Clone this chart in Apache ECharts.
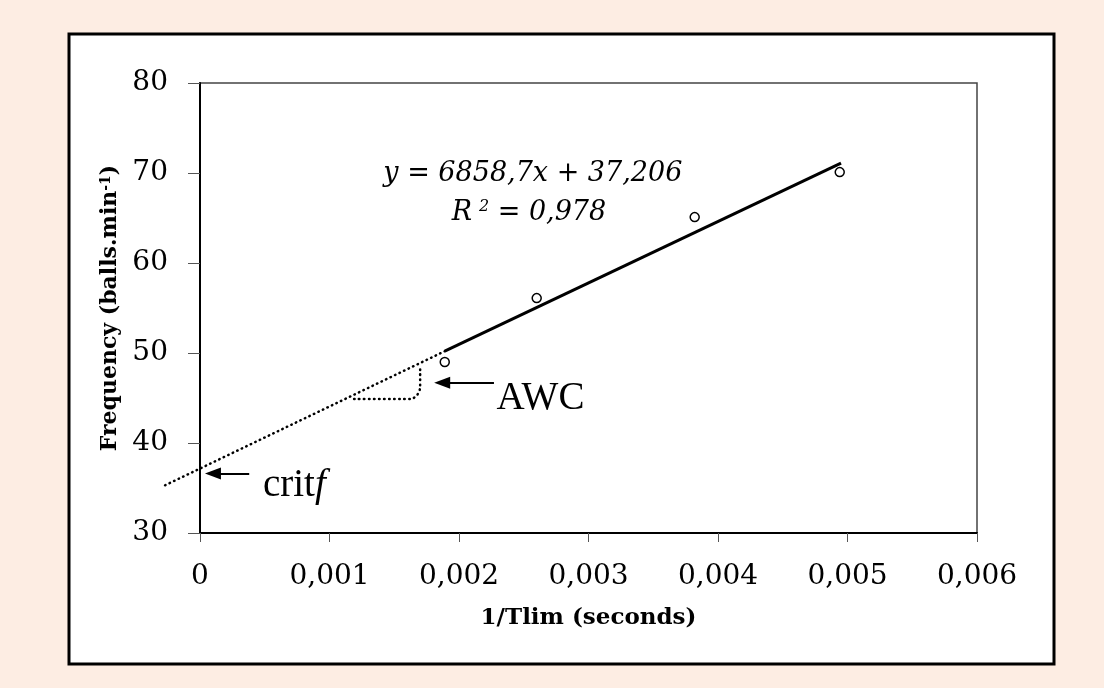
<!DOCTYPE html>
<html>
<head>
<meta charset="utf-8">
<script src="https://cdn.jsdelivr.net/npm/echarts@6/dist/echarts.min.js"></script>
<style>
  html, body { margin: 0; padding: 0; background: #fdede3; }
  #chart { width: 1104px; height: 688px; }
</style>
</head>
<body>
<div id="chart"></div>
<script>
// measured points: 1/Tlim vs frequency
const tlimInv = [0.00189, 0.0026, 0.00382, 0.00494];
const freq = [49.0, 56.1, 65.1, 70.1];

// fitted line, solid part and dotted extrapolation
const trendX = [0.00189, 0.00495];
const trendY = [50.2, 71.1];
const extraX = [-0.00027, 0.00189];
const extraY = [35.3, 50.2];

// AWC bracket under the extrapolated line
const awcX = [0.00119, 0.00163, 0.00168, 0.0017, 0.0017];
const awcY = [44.9, 44.9, 45.4, 46.2, 48.3];

const xTicks = [0, 0.001, 0.002, 0.003, 0.004, 0.005, 0.006];
const yTicks = [30, 40, 50, 60, 70, 80];

const serifWide = 'DejaVu Serif';
const serif = '"Liberation Serif", "Times New Roman", serif';

const zip = (xs, ys) => xs.map((x, i) => [x, ys[i]]);
const dotted = { stroke: '#000', lineWidth: 2.5, lineDash: [0.5, 4.5], lineCap: 'round', fill: null };

const chart = echarts.init(document.getElementById('chart'));

chart.setOption({
  backgroundColor: '#fdede3',
  animation: false,
  graphic: [{
    type: 'rect',
    z: -10,
    shape: { x: 69, y: 34, width: 985, height: 630 },
    style: { fill: '#fff', stroke: '#000', lineWidth: 3 }
  }],
  grid: {
    left: 200, top: 83, right: 127, bottom: 155,
    show: true, borderColor: '#444', borderWidth: 1.5, backgroundColor: 'transparent'
  },
  xAxis: {
    type: 'value',
    min: xTicks[0], max: xTicks[xTicks.length - 1], interval: 0.001,
    name: '1/Tlim (seconds)',
    nameLocation: 'middle', nameGap: 74,
    nameTextStyle: { fontFamily: serifWide, fontWeight: 'bold', fontSize: 23, color: '#000' },
    axisLine: { lineStyle: { color: '#000', width: 2 } },
    axisTick: { inside: false, length: 9, lineStyle: { color: '#555', width: 1 } },
    axisLabel: {
      margin: 30, fontFamily: serifWide, fontSize: 28, color: '#000',
      formatter: v => v === 0 ? '0' : v.toFixed(3).replace('.', ',')
    },
    splitLine: { show: false }
  },
  yAxis: {
    type: 'value',
    min: yTicks[0], max: yTicks[yTicks.length - 1], interval: 10,
    name: '{a|Frequency (balls.min}{s|-1}{a|)}',
    nameLocation: 'middle', nameGap: 78,
    nameTextStyle: {
      color: '#000',
      rich: {
        a: { fontFamily: serifWide, fontWeight: 'bold', fontSize: 22, color: '#000' },
        s: { fontFamily: serifWide, fontWeight: 'bold', fontSize: 14, color: '#000', verticalAlign: 'top' }
      }
    },
    axisLine: { show: true, lineStyle: { color: '#000', width: 2 } },
    axisTick: { show: true, inside: false, length: 12, lineStyle: { color: '#555', width: 1 } },
    axisLabel: { margin: 32, fontFamily: serifWide, fontSize: 28, color: '#000' },
    splitLine: { show: false }
  },
  series: [
    {
      // extrapolated fit, runs past the y axis to the left
      name: 'extrapolation',
      type: 'custom',
      clip: false,
      data: [0],
      z: 3,
      renderItem: (params, api) => ({
        type: 'polyline',
        shape: { points: zip(extraX, extraY).map(p => api.coord(p)) },
        style: dotted
      })
    },
    {
      name: 'AWC',
      type: 'line',
      data: zip(awcX, awcY),
      symbol: 'none',
      smooth: 0.3,
      lineStyle: { color: '#000', width: 2.5, type: [0.5, 4.5], cap: 'round' },
      z: 3
    },
    {
      name: 'trend',
      type: 'line',
      data: zip(trendX, trendY),
      symbol: 'none',
      lineStyle: { color: '#000', width: 3 },
      z: 4
    },
    {
      name: 'points',
      type: 'scatter',
      data: zip(tlimInv, freq),
      symbol: 'circle',
      symbolSize: 9,
      itemStyle: { color: '#fff', borderColor: '#000', borderWidth: 1.5, opacity: 1 },
      z: 5
    },
    {
      name: 'notes',
      type: 'scatter',
      symbolSize: 0,
      silent: true,
      z: 6,
      itemStyle: { color: '#000', opacity: 1 },
      label: {
        show: true,
        position: [0, 0],
        verticalAlign: 'middle',
        color: '#000',
        opacity: 1,
        textBorderWidth: 0,
        formatter: p => p.data.text,
        rich: {
          i: { fontFamily: serifWide, fontStyle: 'italic', fontSize: 27, color: '#000' },
          s: { fontFamily: serifWide, fontStyle: 'italic', fontSize: 16, color: '#000', verticalAlign: 'top', padding: [0, 0, 0, 7] },
          n: { fontFamily: serif, fontSize: 39, color: '#000' },
          f: { fontFamily: serif, fontStyle: 'italic', fontSize: 39, color: '#000' }
        }
      },
      data: [
        { value: [0.00257, 69.9], text: '{i|y = 6858,7x + 37,206}', label: { align: 'center' } },
        { value: [0.00254, 65.6], text: '{i|R}{s|2}{i| = 0,978}', label: { align: 'center' } },
        { value: [0.00229, 44.9], text: '{n|AWC}', label: { align: 'left' } },
        { value: [0.000486, 35.2], text: '{n|crit}{f|f}', label: { align: 'left' } }
      ],
      markLine: {
        silent: true,
        animation: false,
        label: { show: false },
        lineStyle: { color: '#000', width: 2, type: 'solid', opacity: 1 },
        itemStyle: { color: '#000', opacity: 1 },
        symbol: ['none', 'triangle'],
        symbolSize: [12, 16],
        data: [
          [{ coord: [0.00227, 46.7] }, { coord: [0.00187, 46.7] }],
          [{ coord: [0.00038, 36.6] }, { coord: [0.0001, 36.6] }]
        ]
      }
    }
  ]
});

window.addEventListener('resize', () => chart.resize());
</script>
</body>
</html>
